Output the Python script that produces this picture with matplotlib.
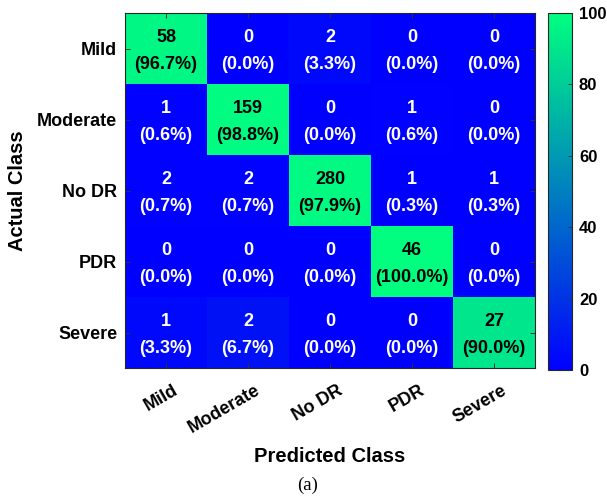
import numpy as np
import matplotlib
matplotlib.use("Agg")
import matplotlib.pyplot as plt
from matplotlib.transforms import ScaledTranslation

classes = ["Mild", "Moderate", "No DR", "PDR", "Severe"]
counts = [
    [58, 0, 2, 0, 0],
    [1, 159, 0, 1, 0],
    [2, 2, 280, 1, 1],
    [0, 0, 0, 46, 0],
    [1, 2, 0, 0, 27],
]
percents = [
    [96.7, 0.0, 3.3, 0.0, 0.0],
    [0.6, 98.8, 0.0, 0.6, 0.0],
    [0.7, 0.7, 97.9, 0.3, 0.3],
    [0.0, 0.0, 0.0, 100.0, 0.0],
    [3.3, 6.7, 0.0, 0.0, 90.0],
]
cbar_ticks = [0, 20, 40, 60, 80, 100]

plt.rcParams["font.family"] = ["Liberation Sans", "DejaVu Sans"]
plt.rcParams["font.weight"] = "bold"

fig = plt.figure(figsize=(6.07, 4.97), dpi=100)
W, H = 607, 497
ax = fig.add_axes([125 / W, 1 - 368 / H, (535 - 125) / W, (368 - 13) / H])
cax = fig.add_axes([548 / W, 1 - 370 / H, 24 / W, (370 - 13) / H])

pct = np.array(percents)
im = ax.imshow(pct, cmap="winter", vmin=0, vmax=100, aspect="auto")

for i in range(len(classes)):
    for j in range(len(classes)):
        color = "black" if pct[i, j] > 50 else "white"
        ax.text(j, i + 0.03, f"{counts[i][j]}\n({percents[i][j]:.1f}%)", ha="center", va="center",
                fontsize=13, fontweight="bold", color=color, linespacing=1.75)

ax.set_xticks(range(len(classes)))
ax.set_yticks(range(len(classes)))
ax.set_xticklabels(classes, rotation=30, ha="right", rotation_mode="anchor",
                   fontsize=13, fontweight="bold")
ax.set_yticklabels(classes, fontsize=13, fontweight="bold")
ax.tick_params(direction="in", length=3.5, width=0.7, color="#333333",
               top=True, right=True, labeltop=False, labelright=False)
ax.tick_params(axis="y", pad=5.5)
ax.tick_params(axis="x", pad=10)
shift = ScaledTranslation(7 / 100, 0, fig.dpi_scale_trans)
for lab in ax.get_xticklabels():
    lab.set_transform(lab.get_transform() + shift)
for s in ax.spines.values():
    s.set_color("#262626")
    s.set_linewidth(0.8)

ax.set_xlabel("Predicted Class", fontsize=14.5, fontweight="bold")
ax.xaxis.set_label_coords(0.5, -(456 - 368) / 355, transform=ax.transAxes)
ax.xaxis.label.set_va("center")
ax.set_ylabel("Actual Class", fontsize=14.5, fontweight="bold")
ax.yaxis.set_label_coords((18 - 125) / 410, 0.5, transform=ax.transAxes)
ax.yaxis.label.set_va("center")

cb = fig.colorbar(im, cax=cax, ticks=cbar_ticks)
cb.ax.tick_params(direction="in", length=3, width=0.7, labelsize=12, color="#333333", pad=5)
for lab in cb.ax.get_yticklabels():
    lab.set_fontweight("bold")
cb.outline.set_linewidth(0.8)
cb.outline.set_edgecolor("#262626")

fig.text(308 / W, 1 - 485 / H, "(a)", ha="center", va="center", fontsize=13.5,
         family=["Liberation Serif"], fontweight="normal")

fig.savefig("out.png", dpi=100)
